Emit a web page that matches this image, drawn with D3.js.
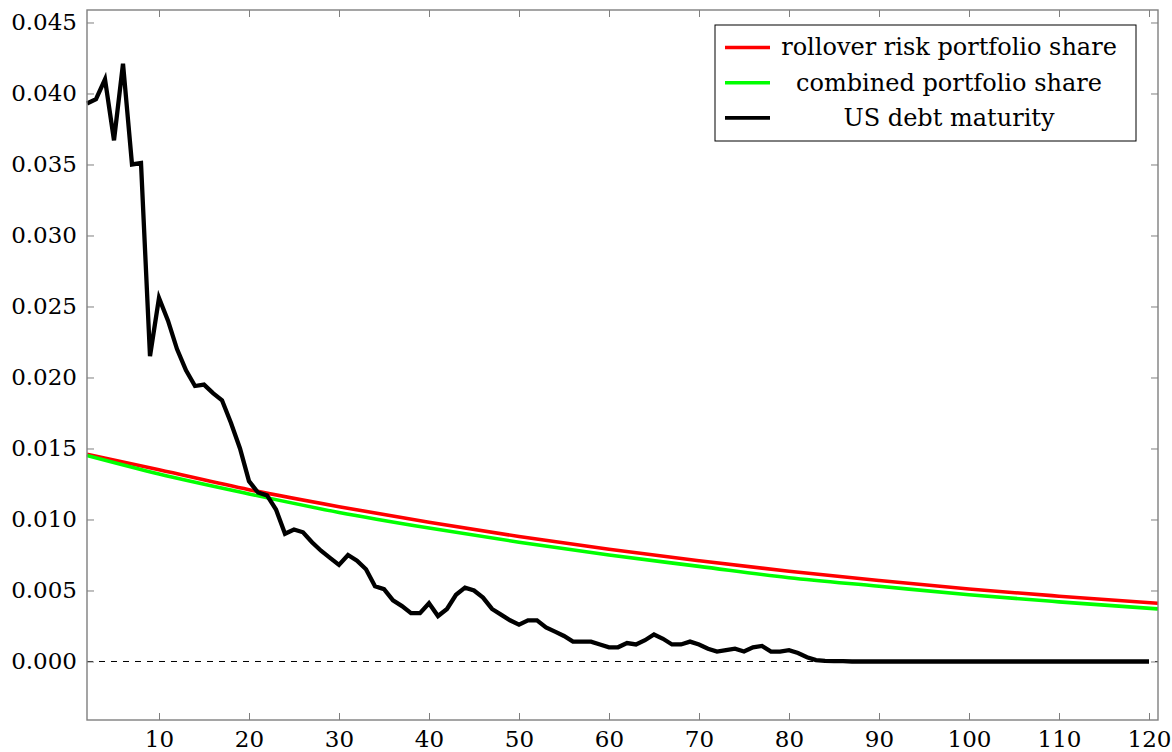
<!DOCTYPE html>
<html>
<head>
<meta charset="utf-8">
<script src="https://cdn.jsdelivr.net/npm/d3@7"></script>
<style>
  body { margin: 0; background: #fff; }
  svg text { font-family: "DejaVu Serif", "Liberation Serif", serif; fill: #000; }
</style>
</head>
<body>
<script>
// maturity in months, US debt shares
var debtX = d3.range(2, 121);
var debtY = [
  0.0393, 0.0396, 0.0410, 0.0367, 0.0421, 0.0350, 0.0351, 0.0215, 0.0256, 0.0240,
  0.0220, 0.0205, 0.0194, 0.0195, 0.0189, 0.0184, 0.0168, 0.0150, 0.0127, 0.0119,
  0.0117, 0.0107, 0.0090, 0.0093, 0.0091, 0.0084, 0.0078, 0.0073, 0.0068, 0.0075,
  0.0071, 0.0065, 0.0053, 0.0051, 0.0043, 0.0039, 0.0034, 0.0034, 0.0041, 0.0032,
  0.0037, 0.0047, 0.0052, 0.0050, 0.0045, 0.0037, 0.0033, 0.0029, 0.0026, 0.0029,
  0.0029, 0.0024, 0.0021, 0.0018, 0.0014, 0.0014, 0.0014, 0.0012, 0.0010, 0.0010,
  0.0013, 0.0012, 0.0015, 0.0019, 0.0016, 0.0012, 0.0012, 0.0014, 0.0012, 0.0009,
  0.0007, 0.0008, 0.0009, 0.0007, 0.0010, 0.0011, 0.0007, 0.0007, 0.0008, 0.0006,
  0.0003, 0.0001, 0.00004, 0.00003, 0.00002, 0, 0, 0, 0, 0,
  0, 0, 0, 0, 0, 0, 0, 0, 0, 0,
  0, 0, 0, 0, 0, 0, 0, 0, 0, 0,
  0, 0, 0, 0, 0, 0, 0, 0, 0
];

// smooth portfolio curves, read at a few maturities
var shareX = [2, 10, 20, 30, 40, 50, 60, 70, 80, 90, 100, 110, 121];
var rolloverY = [0.0146, 0.0135, 0.0121, 0.0109, 0.0098, 0.0088, 0.0079, 0.0071, 0.00635, 0.0057, 0.0051, 0.0046, 0.0041];
var combinedY = [0.0145, 0.0132, 0.0118, 0.0105, 0.0094, 0.0084, 0.0075, 0.0067, 0.0059, 0.0053, 0.0047, 0.0042, 0.0037];

var xTicks = [10, 20, 30, 40, 50, 60, 70, 80, 90, 100, 110, 120];
var yTicks = [0, 0.005, 0.010, 0.015, 0.020, 0.025, 0.030, 0.035, 0.040, 0.045];

var legendNames = ["rollover risk portfolio share", "combined portfolio share", "US debt maturity"];
var legendColors = ["#ff0000", "#00ff00", "#000000"];

function draw() {
  var W = 1172, H = 752;
  var pl = 87, pr = 1158, pt = 10, pb = 720;
  var fontStack = "'DejaVu Serif', 'Liberation Serif', serif";

  var svg = d3.select("body").append("svg")
    .attr("width", W).attr("height", H);

  var x = d3.scaleLinear().domain([2, 121]).range([pl, pr]);
  var y = d3.scaleLinear().domain([-0.00412, 0.04588]).range([pb, pt]);

  // zero line
  svg.append("line")
    .attr("x1", pl).attr("x2", pr)
    .attr("y1", y(0)).attr("y2", y(0))
    .attr("stroke", "#000").attr("stroke-width", 1)
    .attr("stroke-dasharray", "6,6");

  var line = d3.line()
    .x(function (d) { return x(d[0]); })
    .y(function (d) { return y(d[1]); });

  var smooth = d3.line()
    .curve(d3.curveMonotoneX)
    .x(function (d) { return x(d[0]); })
    .y(function (d) { return y(d[1]); });

  var plot = svg.append("g");
  plot.append("path")
    .datum(d3.zip(shareX, rolloverY))
    .attr("d", smooth)
    .attr("fill", "none").attr("stroke", legendColors[0]).attr("stroke-width", 3.6);
  plot.append("path")
    .datum(d3.zip(shareX, combinedY))
    .attr("d", smooth)
    .attr("fill", "none").attr("stroke", legendColors[1]).attr("stroke-width", 3.6);
  plot.append("path")
    .datum(d3.zip(debtX, debtY))
    .attr("d", line)
    .attr("fill", "none").attr("stroke", legendColors[2]).attr("stroke-width", 4.3)
    .attr("stroke-linejoin", "miter");

  // axes, ticks inward on all sides
  var tl = 7;
  var axisColor = "#7f7f7f";
  svg.append("g").attr("transform", "translate(0," + pb + ")")
    .call(d3.axisBottom(x).tickValues(xTicks).tickSizeInner(-tl).tickSizeOuter(0).tickPadding(11))
    .call(function (g) { g.selectAll("text").attr("font-size", 23).attr("dy", "0.71em"); });
  svg.append("g").attr("transform", "translate(0," + pt + ")")
    .call(d3.axisTop(x).tickValues(xTicks).tickSizeInner(-tl).tickSizeOuter(0).tickFormat(""));
  svg.append("g").attr("transform", "translate(" + pl + ",0)")
    .call(d3.axisLeft(y).tickValues(yTicks).tickSizeInner(-tl).tickSizeOuter(0).tickPadding(10).tickFormat(d3.format(".3f")))
    .call(function (g) { g.selectAll("text").attr("font-size", 23); });
  svg.append("g").attr("transform", "translate(" + pr + ",0)")
    .call(d3.axisRight(y).tickValues(yTicks).tickSizeInner(-tl).tickSizeOuter(0).tickFormat(""));

  svg.selectAll("g").attr("font-family", null);
  svg.selectAll(".domain").remove();
  svg.selectAll(".tick line").attr("stroke", axisColor).attr("stroke-width", 1);
  svg.append("rect")
    .attr("x", pl).attr("y", pt)
    .attr("width", pr - pl).attr("height", pb - pt)
    .attr("fill", "none").attr("stroke", axisColor).attr("stroke-width", 1.4);
  svg.selectAll(".tick text").style("font-family", fontStack).attr("fill", "#000");

  // legend
  var lg = svg.append("g");
  lg.append("rect")
    .attr("x", 715).attr("y", 25).attr("width", 421).attr("height", 116)
    .attr("fill", "#fff").attr("stroke", "#000").attr("stroke-width", 1);
  legendNames.forEach(function (name, i) {
    var ly = 47.5 + i * 35.2;
    lg.append("line")
      .attr("x1", 725).attr("x2", 770).attr("y1", ly).attr("y2", ly)
      .attr("stroke", legendColors[i]).attr("stroke-width", 3.6);
    lg.append("text")
      .attr("x", 949).attr("y", ly).attr("dy", "0.33em")
      .attr("text-anchor", "middle").attr("font-size", 24)
      .style("font-family", fontStack)
      .text(name);
  });
}

draw();
</script>
</body>
</html>
